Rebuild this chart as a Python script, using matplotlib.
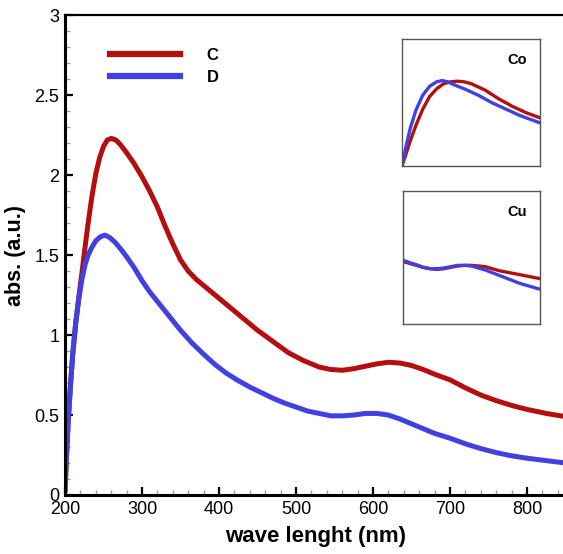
#!/usr/bin/env python3
"""Absorbance spectra of samples C and D, with Co / Cu insets."""
import matplotlib
matplotlib.use("Agg")
import matplotlib.pyplot as plt
from matplotlib.ticker import MultipleLocator, FuncFormatter

RED, BLUE = "#b40f0f", "#4141e1"
plt.rcParams.update({"font.family": ["Liberation Sans", "DejaVu Sans"]})

# ---- main spectra (wavelength nm, absorbance a.u.) ----
wl_c = [200, 202, 204, 207, 210, 214, 218, 222, 226, 230, 235, 240, 245, 250,
        255, 260, 266, 272, 280, 290, 300, 310, 320, 330, 340, 350, 360, 370,
        380, 395, 410, 430, 450, 470, 490, 510, 530, 545, 560, 575, 590, 605,
        620, 635, 650, 665, 680, 700, 720, 740, 760, 780, 800, 825, 850]
abs_c = [0.03, 0.25, 0.45, 0.68, 0.88, 1.08, 1.24, 1.39, 1.55, 1.70, 1.87, 2.01,
         2.11, 2.18, 2.22, 2.23, 2.22, 2.19, 2.14, 2.07, 1.99, 1.90, 1.80, 1.68,
         1.57, 1.47, 1.40, 1.35, 1.31, 1.25, 1.19, 1.11, 1.03, 0.96, 0.89, 0.84,
         0.80, 0.785, 0.78, 0.79, 0.805, 0.82, 0.83, 0.825, 0.81, 0.785, 0.755,
         0.72, 0.67, 0.625, 0.59, 0.56, 0.535, 0.51, 0.49]

wl_d = [200, 202, 204, 207, 210, 214, 218, 222, 226, 230, 235, 240, 246, 252,
        258, 265, 272, 280, 290, 300, 310, 320, 335, 350, 365, 380, 395, 410,
        425, 440, 455, 470, 485, 500, 515, 530, 545, 560, 575, 590, 605, 620,
        635, 650, 665, 680, 700, 720, 740, 760, 780, 800, 825, 850]
abs_d = [0.03, 0.25, 0.45, 0.68, 0.88, 1.08, 1.23, 1.35, 1.44, 1.50, 1.55, 1.59,
         1.615, 1.625, 1.61, 1.58, 1.54, 1.49, 1.42, 1.34, 1.27, 1.21, 1.12,
         1.03, 0.95, 0.88, 0.815, 0.76, 0.715, 0.675, 0.64, 0.605, 0.575, 0.55,
         0.525, 0.51, 0.495, 0.495, 0.50, 0.51, 0.51, 0.50, 0.475, 0.445, 0.415,
         0.385, 0.355, 0.32, 0.29, 0.265, 0.245, 0.23, 0.215, 0.20]

# ---- insets (relative coordinates, no scale shown) ----
co_x_c = [0.0, 0.03, 0.06, 0.10, 0.15, 0.20, 0.25, 0.30, 0.35, 0.40, 0.45,
          0.50, 0.55, 0.60, 0.65, 0.70, 0.75, 0.80, 0.85, 0.90, 0.95, 1.0]
co_y_c = [0.0, 0.10, 0.20, 0.32, 0.45, 0.55, 0.61, 0.65, 0.665, 0.67, 0.665,
          0.65, 0.625, 0.60, 0.565, 0.53, 0.50, 0.47, 0.445, 0.42, 0.40, 0.38]
co_x_d = [0.0, 0.03, 0.06, 0.10, 0.15, 0.20, 0.25, 0.29, 0.33, 0.38, 0.45,
          0.50, 0.55, 0.60, 0.65, 0.70, 0.75, 0.80, 0.85, 0.90, 0.95, 1.0]
co_y_d = [0.0, 0.16, 0.30, 0.44, 0.56, 0.63, 0.665, 0.675, 0.665, 0.64, 0.61,
          0.585, 0.56, 0.53, 0.50, 0.475, 0.45, 0.425, 0.40, 0.38, 0.36, 0.34]

cu_x = [0.0, 0.05, 0.10, 0.15, 0.20, 0.25, 0.30, 0.35, 0.40, 0.45, 0.50,
        0.55, 0.60, 0.65, 0.70, 0.75, 0.80, 0.85, 0.90, 0.95, 1.0]
cu_y_c = [0.47, 0.455, 0.44, 0.425, 0.415, 0.41, 0.415, 0.425, 0.435, 0.44, 0.44,
          0.435, 0.43, 0.415, 0.40, 0.39, 0.38, 0.37, 0.36, 0.35, 0.34]
cu_y_d = [0.48, 0.46, 0.445, 0.425, 0.415, 0.415, 0.42, 0.43, 0.44, 0.44, 0.435,
          0.42, 0.405, 0.385, 0.365, 0.345, 0.325, 0.305, 0.29, 0.275, 0.26]

fig = plt.figure(figsize=(5.63, 5.54), dpi=100)
ax = fig.add_axes([0.1155, 0.1065, 0.889, 0.866])
ax.plot(wl_c, abs_c, color=RED, lw=3.6, label="C", solid_joinstyle="round")
ax.plot(wl_d, abs_d, color=BLUE, lw=3.6, label="D", solid_joinstyle="round")
ax.set_xlim(200, 850)
ax.set_ylim(0, 3)
ax.xaxis.set_major_locator(MultipleLocator(100))
ax.xaxis.set_minor_locator(MultipleLocator(20))
ax.yaxis.set_major_locator(MultipleLocator(0.5))
ax.yaxis.set_minor_locator(MultipleLocator(0.1))
ax.yaxis.set_major_formatter(FuncFormatter(lambda v, _: "%g" % v))
ax.tick_params(which="major", direction="in", length=6, width=1.6,
               labelsize=13, pad=4, color="black")
ax.tick_params(which="minor", direction="in", length=3.5, width=1.0, color="#999999")
ax.spines["left"].set_linewidth(2.2)
ax.spines["bottom"].set_linewidth(2.2)
ax.spines["top"].set_linewidth(1.6)
ax.spines["right"].set_visible(False)
ax.set_xlabel("wave lenght (nm)", fontsize=16, fontweight="bold", labelpad=6)
ax.set_ylabel("abs. (a.u.)", fontsize=15.5, fontweight="bold", labelpad=6)
leg = ax.legend(loc="upper left", bbox_to_anchor=(0.09, 0.932), frameon=False,
                borderpad=0, borderaxespad=0, handlelength=4.2, handletextpad=1.6,
                labelspacing=0.4, prop={"size": 12, "weight": "bold"})
for h in leg.get_lines():
    h.set_linewidth(4.5)


def inset(rect, xc, yc, xd, yd, name):
    a = fig.add_axes(rect)
    a.plot(xc, yc, color=RED, lw=2.4, solid_joinstyle="round")
    a.plot(xd, yd, color=BLUE, lw=2.4, solid_joinstyle="round")
    a.set_xlim(0, 1)
    a.set_ylim(0, 1)
    a.set_xticks([])
    a.set_yticks([])
    for s in a.spines.values():
        s.set_linewidth(1.0)
        s.set_color("#555555")
    a.text(0.83, 0.84, name, transform=a.transAxes, ha="center", va="center",
           fontsize=10.5, fontweight="bold")
    return a


inset([0.714, 0.700, 0.246, 0.229], co_x_c, co_y_c, co_x_d, co_y_d, "Co")
inset([0.715, 0.415, 0.245, 0.241], cu_x, cu_y_c, cu_x, cu_y_d, "Cu")

fig.savefig("out.png", dpi=100)
